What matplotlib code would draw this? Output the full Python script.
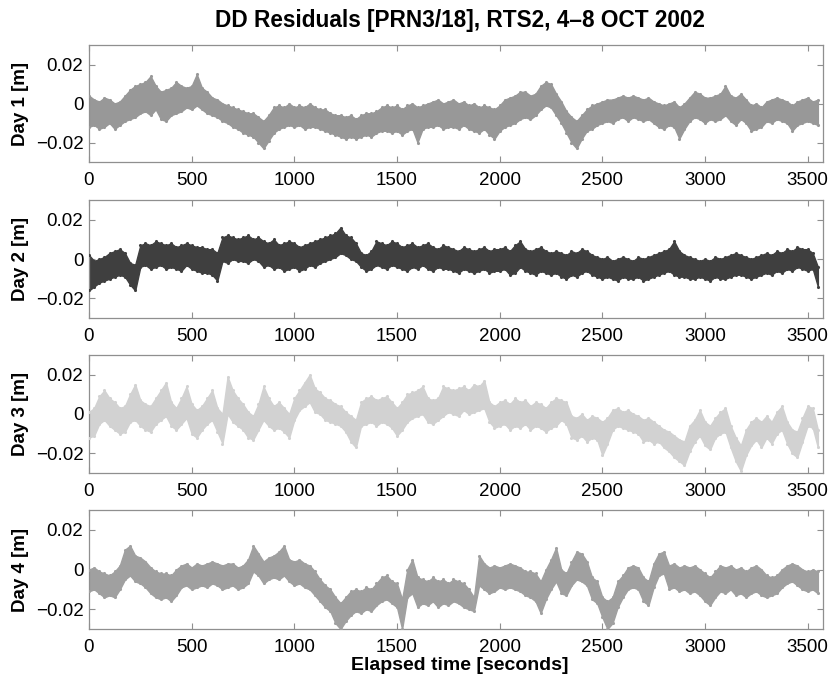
import numpy as np
import matplotlib
matplotlib.use("Agg")
import matplotlib.pyplot as plt

plt.rcParams['font.family'] = ['Liberation Sans', 'DejaVu Sans']

# sample times (s), one reading every 25 s
t_step = 25
t_count = 143

# band limits, in millimetres
day1_lo = [-12,-11,-13,-12,-10,-13,-11,-9,-8,-7,
           -5,-4,-6,-3,-8,-9,-6,-5,-4,-2,
           -3,-1,-3,-5,-6,-7,-9,-10,-12,-13,
           -15,-16,-17,-20,-23,-19,-15,-13,-12,-11,
           -12,-11,-13,-12,-12,-13,-14,-15,-16,-17,
           -18,-17,-18,-17,-16,-17,-15,-14,-14,-15,
           -14,-16,-14,-13,-20,-13,-12,-12,-11,-13,
           -12,-12,-13,-11,-13,-14,-15,-13,-16,-18,
           -14,-12,-11,-10,-8,-7,-8,-6,-3,-1,
           -2,-6,-10,-15,-20,-23,-18,-14,-13,-11,
           -10,-9,-10,-8,-7,-9,-7,-8,-9,-8,
           -10,-12,-13,-11,-12,-18,-13,-9,-7,-8,
           -10,-8,-9,-8,-6,-9,-11,-8,-10,-14,
           -13,-12,-9,-10,-8,-9,-10,-14,-11,-10,
           -9,-10,-11]
day1_hi = [4,2,1,3,2,0,1,4,7,9,
           10,11,14,9,6,7,8,11,9,8,
           9,15,8,6,3,2,0,-1,-2,-3,
           -4,-5,-5,-7,-9,-6,-2,-1,-2,0,
           -2,-1,-2,0,-2,-3,-3,-5,-6,-6,
           -7,-6,-8,-6,-5,-5,-4,-2,-1,-2,
           -1,-3,-1,0,-2,-1,0,1,2,0,
           1,2,0,1,-1,0,-2,-1,-2,-3,
           -1,2,3,4,6,6,4,5,9,11,
           10,5,1,-4,-7,-9,-6,-3,-1,0,
           1,2,2,3,4,3,4,3,2,3,
           1,0,-1,0,1,-2,0,3,6,5,
           3,3,4,5,9,4,3,5,2,-1,
           0,-2,1,2,3,2,1,-1,1,2,
           3,1,2]

day2_lo = [-16,-14,-12,-11,-10,-9,-8,-9,-13,-16,
           -4,-3,-5,-4,-3,-5,-4,-5,-6,-3,
           -5,-6,-7,-7,-8,-11,-1,-2,0,-1,
           -1,-2,0,-1,-4,-3,-5,-4,-6,-5,
           -4,-6,-5,-3,-4,-2,-1,0,1,3,
           2,0,-1,-4,-6,-5,-3,-4,-5,-3,
           -4,-5,-6,-4,-5,-3,-5,-6,-4,-5,
           -5,-6,-7,-5,-6,-7,-6,-5,-7,-6,
           -6,-5,-8,-7,-4,-6,-7,-8,-6,-7,
           -8,-7,-9,-10,-8,-9,-7,-6,-8,-9,
           -10,-9,-10,-11,-9,-10,-10,-9,-11,-10,
           -9,-8,-7,-6,-8,-9,-9,-10,-10,-9,
           -10,-11,-9,-10,-10,-9,-8,-8,-9,-10,
           -9,-8,-7,-8,-6,-7,-5,-6,-4,-5,
           -6,-5,-14]
day2_hi = [2,-1,0,1,3,4,5,3,-2,-3,
           7,8,7,9,8,7,8,6,7,8,
           7,6,6,5,5,3,11,12,11,10,
           11,12,10,11,9,8,10,7,8,9,
           8,6,7,8,9,10,11,12,13,16,
           12,11,8,3,2,4,9,8,7,9,
           8,6,7,8,6,7,8,6,5,7,
           6,5,4,6,5,4,5,6,4,5,
           5,6,4,7,9,5,4,5,6,4,
           3,4,3,2,4,3,5,4,2,1,
           0,1,-1,0,1,0,-1,1,0,1,
           2,3,4,5,9,4,2,1,0,-1,
           0,-1,1,0,1,2,3,2,1,0,
           1,2,3,2,4,3,5,4,6,5,
           5,3,-4]

day3_lo = [-12,-11,-5,-3,-6,-8,-10,-9,-4,-3,
           -6,-8,-9,-5,-3,-1,-6,-8,-5,-2,
           -10,-12,-8,-5,-3,-9,-15,0,-4,-6,
           -8,-12,-13,-8,-3,-6,-8,-7,-9,-12,
           -3,2,4,6,1,0,-3,-4,-5,-6,
           -9,-14,-17,-6,-5,-4,-6,-4,-5,-7,
           -11,-8,-4,-2,-1,0,-4,-5,-3,-1,
           1,0,-1,2,0,1,2,3,-4,-7,
           -6,-5,-8,-6,-7,-5,-8,-6,-7,-9,
           -7,-6,-3,-5,-12,-13,-11,-14,-12,-13,
           -21,-15,-8,-6,-7,-8,-9,-10,-14,-13,
           -15,-14,-17,-19,-22,-24,-26,-19,-14,-11,
           -16,-18,-12,-10,-9,-17,-24,-29,-21,-16,
           -13,-17,-12,-15,-10,-8,-15,-20,-22,-14,
           -6,-7,-17]
day3_hi = [1,3,9,12,8,6,3,4,10,15,
           7,5,4,8,12,16,6,3,8,14,
           5,2,4,8,12,3,0,19,12,8,
           5,1,-1,5,14,8,4,6,3,0,
           8,12,16,20,13,11,8,7,5,4,
           1,-1,-3,6,8,9,7,8,9,6,
           3,6,10,11,12,14,8,7,8,14,
           13,12,13,14,12,15,14,17,6,4,
           6,7,5,8,6,7,4,6,5,3,
           6,8,7,6,-1,-2,0,-3,-1,-2,
           -4,-2,2,3,1,2,0,-1,-3,-2,
           -4,-6,-8,-9,-11,-13,-14,-6,-3,2,
           -4,-6,-2,1,3,-6,-12,-16,-8,-4,
           -2,-4,-1,-4,1,4,-4,-8,-9,-2,
           4,3,-8]

day4_lo = [-11,-10,-12,-14,-13,-14,-10,-5,-3,-6,
           -7,-9,-12,-14,-15,-14,-16,-13,-9,-8,
           -10,-9,-8,-9,-7,-8,-10,-9,-8,-10,
           -9,-7,-1,-3,-7,-5,-4,-5,-3,-6,
           -8,-7,-9,-10,-13,-16,-19,-21,-27,-30,
           -26,-23,-21,-22,-20,-21,-18,-16,-15,-17,
           -19,-30,-14,-12,-19,-17,-18,-16,-19,-17,
           -18,-16,-17,-19,-20,-21,-8,-10,-12,-11,
           -9,-10,-9,-10,-11,-13,-14,-16,-22,-15,
           -10,-6,-12,-13,-8,-5,-6,-8,-15,-17,
           -24,-30,-27,-19,-14,-10,-9,-10,-16,-18,
           -9,-3,-2,-10,-9,-11,-10,-12,-11,-13,
           -16,-18,-14,-11,-12,-10,-13,-12,-14,-12,
           -11,-13,-14,-13,-12,-9,-7,-6,-8,-10,
           -11,-10,-12]
day4_hi = [0,1,-1,-2,-3,-1,2,10,12,7,
           6,4,1,-1,-2,-2,-3,0,2,3,
           1,3,2,3,4,3,2,3,3,1,
           2,5,12,8,4,6,7,9,12,5,
           4,5,3,2,-1,-5,-8,-10,-14,-17,
           -14,-11,-10,-11,-9,-10,-7,-4,-3,-6,
           -7,-15,0,5,-4,-5,-6,-4,-6,-5,
           -7,-5,-6,-7,-10,-14,7,3,1,2,
           1,2,3,2,1,-1,-1,-2,-6,0,
           5,11,0,-2,4,9,8,4,-4,-6,
           -14,-16,-14,-6,-3,1,2,1,-4,-6,
           3,8,9,2,3,1,2,1,2,0,
           -2,-4,-1,2,1,2,0,1,-1,1,
           2,0,-3,-4,-3,0,2,3,2,0,
           -1,0,-1]

day_names = ['Day 1 [m]', 'Day 2 [m]', 'Day 3 [m]', 'Day 4 [m]']
day_colors = ['#989898', '#3f3f3f', '#d2d2d2', '#a0a0a0']
x_ticks = [0, 500, 1000, 1500, 2000, 2500, 3000, 3500]
y_ticks = [-0.02, 0, 0.02]
y_ticklabels = ['\u22120.02', '0', '0.02']
title = 'DD Residuals [PRN3/18], RTS2, 4\u20138 OCT 2002'
x_label = 'Elapsed time [seconds]'

series = [(day1_lo, day1_hi), (day2_lo, day2_hi),
          (day3_lo, day3_hi), (day4_lo, day4_hi)]

t = np.arange(t_count) * t_step

W, H = 831, 680
fig = plt.figure(figsize=(W / 100, H / 100), dpi=100)
left_px, right_px = 89, 823
tops = [45, 200, 355, 510]
bottoms = [162, 318, 473, 629]
spine_col = '#8f8f8f'

for i in range(4):
    ax = fig.add_axes([left_px / W, 1 - bottoms[i] / H,
                       (right_px - left_px) / W, (bottoms[i] - tops[i]) / H])
    lo = np.array(series[i][0]) / 1000.0
    hi = np.array(series[i][1]) / 1000.0
    col = day_colors[i]
    ax.fill_between(t, lo, hi, color=col, lw=1.0, edgecolor=col, zorder=2)
    ax.scatter(t, lo, s=5, color=col, lw=0, zorder=3)
    ax.scatter(t, hi, s=5, color=col, lw=0, zorder=3)
    ax.set_xlim(0, 3575)
    ax.set_ylim(-0.03, 0.03)
    ax.set_xticks(x_ticks)
    ax.set_xticklabels([str(v) for v in x_ticks])
    ax.set_yticks(y_ticks)
    ax.set_yticklabels(y_ticklabels)
    ax.tick_params(direction='in', top=True, right=True, length=4,
                   width=0.8, color=spine_col, labelsize=13.5,
                   labelcolor='black')
    ax.tick_params(axis='x', pad=7)
    ax.tick_params(axis='y', pad=4)
    for sp in ax.spines.values():
        sp.set_color(spine_col)
        sp.set_linewidth(0.9)
    ax.set_ylabel(day_names[i], fontsize=13.5, fontweight='bold')
    ax.yaxis.set_label_coords((29 - left_px) / (right_px - left_px), 0.5)

fig.text(460 / W, 1 - 20 / H, title,
         ha='center', va='center', fontsize=16.3, fontweight='bold')
fig.text(460 / W, 1 - 665 / H, x_label,
         ha='center', va='center', fontsize=14, fontweight='bold')

fig.savefig('out.png', dpi=100)
